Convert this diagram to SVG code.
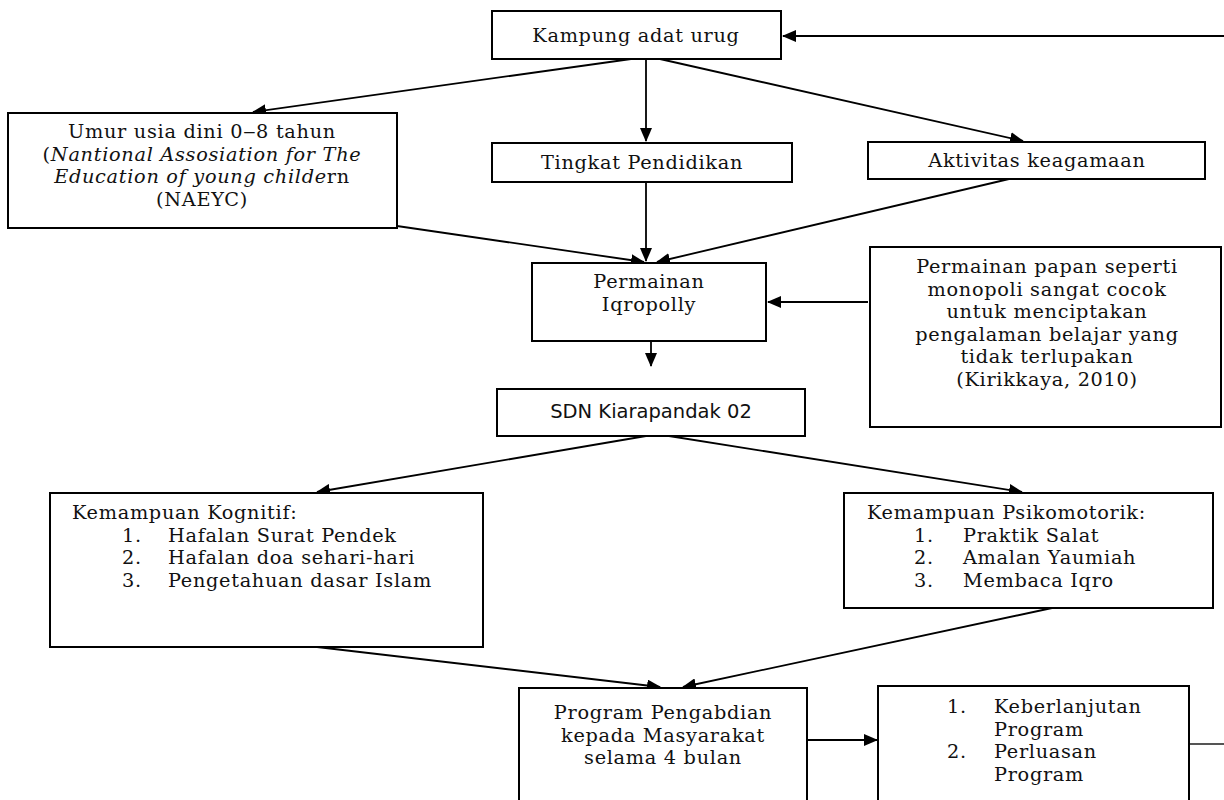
<svg xmlns="http://www.w3.org/2000/svg" width="1224" height="800" viewBox="0 0 1224 800">
<defs>
<marker id="ah" markerUnits="userSpaceOnUse" markerWidth="14" markerHeight="12" refX="13" refY="6" orient="auto">
<path d="M0,0 L14,6 L0,12 z" fill="#000"/>
</marker>
<style>
.box{fill:#fff;stroke:#000;stroke-width:2}
.t{font-family:"DejaVu Serif","Liberation Serif",serif;font-size:19.3px;letter-spacing:0.7px;fill:#111}
.c{text-anchor:middle}
.i{font-style:italic}
.s{font-family:"DejaVu Sans","Liberation Sans",sans-serif;font-size:19.5px;fill:#111}
.ar{stroke:#000;stroke-width:1.8;fill:none;marker-end:url(#ah)}
</style>
</defs>
<rect width="1224" height="800" fill="#fff"/>

<g id="connectors">
<line class="ar" x1="1224" y1="36" x2="783" y2="36"/>
<line class="ar" x1="631" y1="59" x2="253" y2="112"/>
<line class="ar" x1="646" y1="59" x2="646" y2="141"/>
<line class="ar" x1="660" y1="59" x2="1023" y2="141"/>
<line class="ar" x1="397" y1="226" x2="644" y2="262"/>
<line class="ar" x1="646" y1="182" x2="646" y2="261"/>
<line class="ar" x1="1009" y1="179" x2="657" y2="262"/>
<line class="ar" x1="868" y1="302" x2="768" y2="302"/>
<line class="ar" x1="651" y1="318" x2="651" y2="366"/>
<line class="ar" x1="646" y1="436" x2="317" y2="492"/>
<line class="ar" x1="669" y1="436" x2="1022" y2="492"/>
<line class="ar" x1="317" y1="647" x2="660" y2="687"/>
<line class="ar" x1="1052" y1="608" x2="683" y2="687"/>
<line class="ar" x1="807" y1="740" x2="877" y2="740"/>
<line x1="1189" y1="744" x2="1224" y2="744" stroke="#555" stroke-width="2"/>
</g>

<g id="kampung">
<rect class="box" x="492" y="11" width="289" height="48"/>
<text class="t c" x="636" y="42">Kampung adat urug</text>
</g>

<g id="umur">
<rect class="box" x="8" y="113" width="389" height="115"/>
<text class="t c" x="202" y="138">Umur usia dini 0‒8 tahun</text>
<text class="t c" x="202" y="160.5">(<tspan class="i">Nantional Assosiation for The</tspan></text>
<text class="t c" x="202" y="183"><tspan class="i">Education of young childe</tspan>rn</text>
<text class="t c" x="202" y="205.5">(NAEYC)</text>
</g>

<g id="tingkat">
<rect class="box" x="492" y="143" width="300" height="39"/>
<text class="t c" x="642" y="169">Tingkat Pendidikan</text>
</g>

<g id="aktivitas">
<rect class="box" x="868" y="142" width="337" height="37"/>
<text class="t c" x="1037" y="167">Aktivitas keagamaan</text>
</g>

<g id="permainan">
<rect class="box" x="532" y="263" width="234" height="78"/>
<text class="t c" x="649" y="288">Permainan</text>
<text class="t c" x="649" y="310.5">Iqropolly</text>
</g>

<g id="kutipan">
<rect class="box" x="870" y="247" width="351" height="180"/>
<text class="t c" x="1047" y="273">Permainan papan seperti</text>
<text class="t c" x="1047" y="295.5">monopoli sangat cocok</text>
<text class="t c" x="1047" y="318">untuk menciptakan</text>
<text class="t c" x="1047" y="340.5">pengalaman belajar yang</text>
<text class="t c" x="1047" y="363">tidak terlupakan</text>
<text class="t c" x="1047" y="385.5">(Kirikkaya, 2010)</text>
</g>

<g id="sdn">
<rect class="box" x="497" y="389" width="308" height="47"/>
<text class="s c" x="651" y="418">SDN Kiarapandak 02</text>
</g>

<g id="kognitif">
<rect class="box" x="50" y="493" width="433" height="154"/>
<text class="t" x="72" y="519">Kemampuan Kognitif:</text>
<text class="t" x="122" y="541.5">1.</text>
<text class="t" x="168" y="541.5">Hafalan Surat Pendek</text>
<text class="t" x="122" y="564">2.</text>
<text class="t" x="168" y="564">Hafalan doa sehari-hari</text>
<text class="t" x="122" y="586.5">3.</text>
<text class="t" x="168" y="586.5">Pengetahuan dasar Islam</text>
</g>

<g id="psikomotorik">
<rect class="box" x="844" y="493" width="369" height="115"/>
<text class="t" x="867" y="519">Kemampuan Psikomotorik:</text>
<text class="t" x="914" y="541.5">1.</text>
<text class="t" x="963" y="541.5">Praktik Salat</text>
<text class="t" x="914" y="564">2.</text>
<text class="t" x="963" y="564">Amalan Yaumiah</text>
<text class="t" x="914" y="586.5">3.</text>
<text class="t" x="963" y="586.5">Membaca Iqro</text>
</g>

<g id="program">
<rect class="box" x="519" y="688" width="288" height="120"/>
<text class="t c" x="663" y="719">Program Pengabdian</text>
<text class="t c" x="663" y="741.5">kepada Masyarakat</text>
<text class="t c" x="663" y="764">selama 4 bulan</text>
</g>

<g id="lanjutan">
<rect class="box" x="878" y="686" width="311" height="122"/>
<text class="t" x="947" y="713">1.</text>
<text class="t" x="994" y="713">Keberlanjutan</text>
<text class="t" x="994" y="735.5">Program</text>
<text class="t" x="947" y="758">2.</text>
<text class="t" x="994" y="758">Perluasan</text>
<text class="t" x="994" y="780.5">Program</text>
</g>
</svg>
